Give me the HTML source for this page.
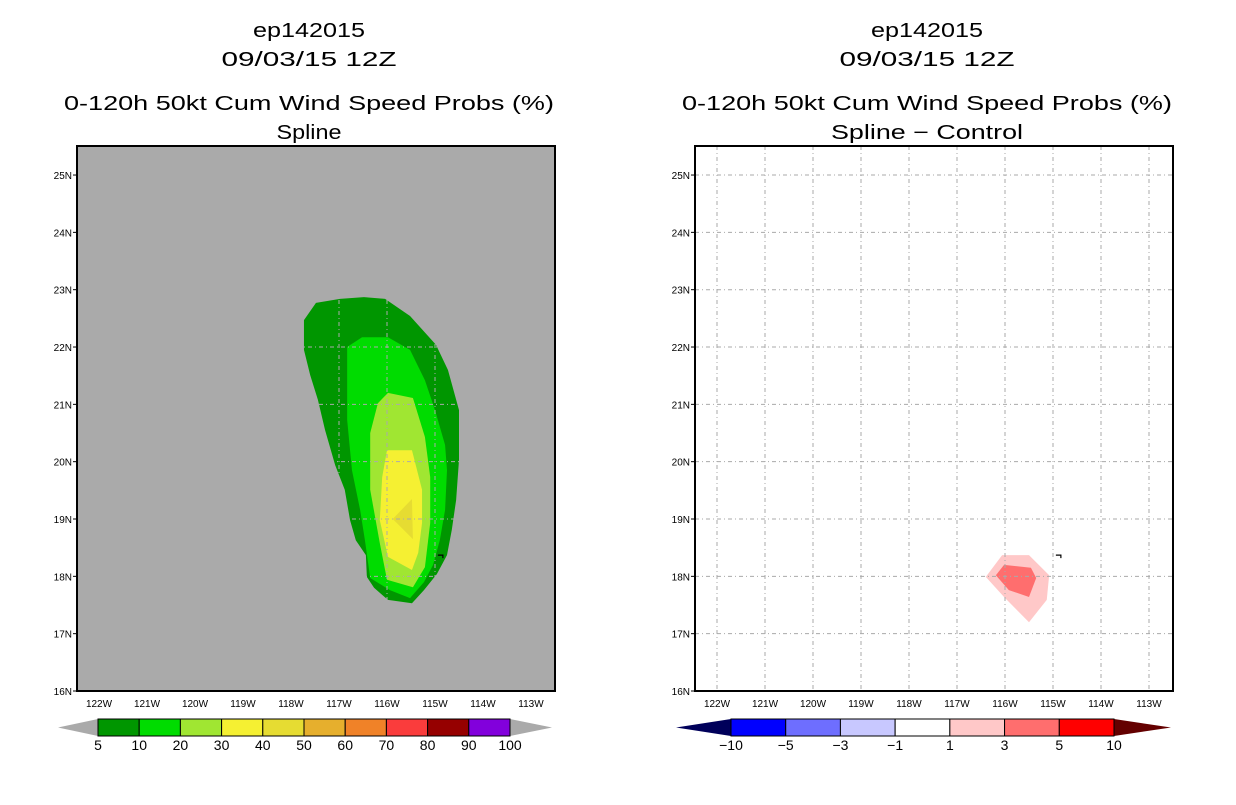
<!DOCTYPE html>
<html><head><meta charset="utf-8"><style>
body{margin:0;background:#fff;width:1236px;height:800px;overflow:hidden;font-family:"Liberation Sans",sans-serif}
svg text{font-family:"Liberation Sans",sans-serif}
</style></head><body>
<svg id="s" width="1236" height="800">
<g font-size="20" text-anchor="middle" fill="#000" lengthAdjust="spacingAndGlyphs">
<text x="309" y="37" textLength="112" lengthAdjust="spacingAndGlyphs">ep142015</text>
<text x="309" y="66" textLength="175" lengthAdjust="spacingAndGlyphs">09/03/15 12Z</text>
<text x="309" y="110" textLength="490" lengthAdjust="spacingAndGlyphs">0-120h 50kt Cum Wind Speed Probs (%)</text>
<text x="309" y="139" textLength="65" lengthAdjust="spacingAndGlyphs">Spline</text>
</g>
<g font-size="20" text-anchor="middle" fill="#000">
<text x="927" y="37" textLength="112" lengthAdjust="spacingAndGlyphs">ep142015</text>
<text x="927" y="66" textLength="175" lengthAdjust="spacingAndGlyphs">09/03/15 12Z</text>
<text x="927" y="110" textLength="490" lengthAdjust="spacingAndGlyphs">0-120h 50kt Cum Wind Speed Probs (%)</text>
<text x="927" y="139" textLength="192" lengthAdjust="spacingAndGlyphs">Spline − Control</text>
</g>
<g id="L"></g>
<g id="R"></g>
<g id="CB"></g>
</svg>
<script>
const lonTicks=[122,121,120,119,118,117,116,115,114,113];
const latTicks=[16,17,18,19,20,21,22,23,24,25];
const probLevels=["5","10","20","30","40","50","60","70","80","90","100"];
const probColors=["#009600","#00dc00","#a0e632","#f5f032","#e6dc32","#e6af2d","#f08228","#fa3c3c","#960000","#8200dc"];
const diffLevels=["−10","−5","−3","−1","1","3","5","10"];
const diffColors=["#0000ff","#6e6eff","#c8c8ff","#ffffff","#ffc8c8","#ff6e6e","#ff0000"];
// contours: [lonW, latN]
const c5=[[117.48,22.77],[116.98,22.84],[116.48,22.87],[116.04,22.84],[115.52,22.54],[114.98,22.04],[114.73,21.6],[114.5,20.9],[114.5,20.03],[114.56,19.33],[114.65,18.81],[114.75,18.37],[114.96,18.04],[115.23,17.76],[115.48,17.53],[115.98,17.59],[116.27,17.8],[116.42,17.99],[116.44,18.37],[116.65,18.63],[116.77,18.98],[116.88,19.51],[117.08,19.94],[117.29,20.55],[117.44,21.08],[117.6,21.51],[117.73,21.95],[117.73,22.47]];
const c10=[[116.83,22.0],[116.52,22.17],[115.98,22.17],[115.52,21.95],[115.21,21.42],[115.0,20.9],[114.79,20.29],[114.75,19.85],[114.79,19.16],[114.9,18.63],[115.04,18.2],[115.23,17.9],[115.52,17.62],[115.94,17.76],[116.35,17.97],[116.46,18.63],[116.56,19.16],[116.73,19.85],[116.83,20.73]];
const c20=[[116.19,21.02],[115.98,21.2],[115.46,21.11],[115.21,20.43],[115.1,19.73],[115.1,18.93],[115.21,18.16],[115.46,17.81],[116.0,17.94],[116.15,18.58],[116.35,19.51],[116.35,20.5]];
const c30=[[116.0,20.2],[115.48,20.2],[115.27,19.51],[115.27,18.93],[115.35,18.41],[115.48,18.11],[115.98,18.34],[116.15,18.98],[116.1,19.73]];
const c40=[[115.88,19.0],[115.48,19.35],[115.46,18.65]];
const d1=[[116.06,18.37],[115.5,18.37],[115.08,18.02],[115.13,17.59],[115.5,17.2],[116.02,17.64],[116.4,17.99]];
const d3=[[116.02,18.2],[115.46,18.15],[115.35,17.97],[115.5,17.64],[115.92,17.76],[116.19,18.02]];
const NS="http://www.w3.org/2000/svg";
function mk(t,a,p){const e=document.createElementNS(NS,t);for(const k in a)e.setAttribute(k,a[k]);p.appendChild(e);return e;}
function makeMap(g,x0,bg,grid,layers,side){
  const X=w=>x0+22+(122-w)*48, Y=l=>691-(l-16)*57.33;
  const bgr=mk('rect',{x:x0,y:146,width:478,height:545,fill:bg},g);
  
  
  layers.forEach(([pts,col,name])=>{
    const p=mk('polygon',{points:pts.map(q=>X(q[0])+','+Y(q[1])).join(' '),fill:col},g);
    
    
  });
  lonTicks.forEach(w=>{
    const l=mk('line',{x1:X(w),x2:X(w),y1:146,y2:691,stroke:grid,'stroke-dasharray':'4,3,1,3'},g);
    
    
    const t=mk('text',{x:X(w),y:707,'font-size':10,'text-anchor':'middle'},g);t.textContent=w+'W';
    
    
  });
  latTicks.forEach(l=>{
    if(l>16){const gl=mk('line',{x1:x0,x2:x0+478,y1:Y(l),y2:Y(l),stroke:grid,'stroke-dasharray':'4,3,1,3'},g);
    
    }
    mk('line',{x1:x0-4,x2:x0,y1:Y(l),y2:Y(l),stroke:'#000'},g);
    const t=mk('text',{x:x0-5,y:Y(l)+4,'font-size':10,'text-anchor':'end'},g);t.textContent=l+'N';
    
    
  });
  mk('path',{d:`M${X(114.94)} ${Y(18.37)}l5 0l0 3`,stroke:'#000',fill:'none','stroke-width':1.2},g);
  const fr=mk('rect',{x:x0,y:146,width:478,height:545,fill:'none',stroke:'#000','stroke-width':2},g);
  
  
}
makeMap(document.getElementById('L'),77,'#aaaaaa','#aaaaaa',[[c5,probColors[0],'contour-5'],[c10,probColors[1],'contour-10'],[c20,probColors[2],'contour-20'],[c30,probColors[3],'contour-30'],[c40,probColors[4],'contour-40']],'left');
makeMap(document.getElementById('R'),695,'#ffffff','#aaaaaa',[[d1,diffColors[4],'contour-diff-1'],[d3,diffColors[5],'contour-diff-3']],'right');
function colorbar(g,x0,x1,tl,tr,cols,labs,lc,rc,name){
  const y0=719,y1=736,n=cols.length,w=(x1-x0)/n;
  mk('polygon',{points:`${tl},${(y0+y1)/2} ${x0},${y0} ${x0},${y1}`,fill:lc},g);
  mk('polygon',{points:`${tr},${(y0+y1)/2} ${x1},${y0} ${x1},${y1}`,fill:rc},g);
  cols.forEach((c,i)=>{const r=mk('rect',{x:x0+i*w,y:y0,width:w,height:y1-y0,fill:c,stroke:'#000'},g);
    
    });
  labs.forEach((s,i)=>{const t=mk('text',{x:x0+i*w,y:750,'font-size':14,'text-anchor':'middle'},g);t.textContent=s;
    
    });
}
const cb=document.getElementById('CB');
colorbar(cb,98,510,58,552,probColors,probLevels,'#aaaaaa','#aaaaaa','prob-colorbar');
colorbar(cb,731,1114,676,1171,diffColors,diffLevels,'#00005a','#640000','diff-colorbar');
</script>
</body></html>
